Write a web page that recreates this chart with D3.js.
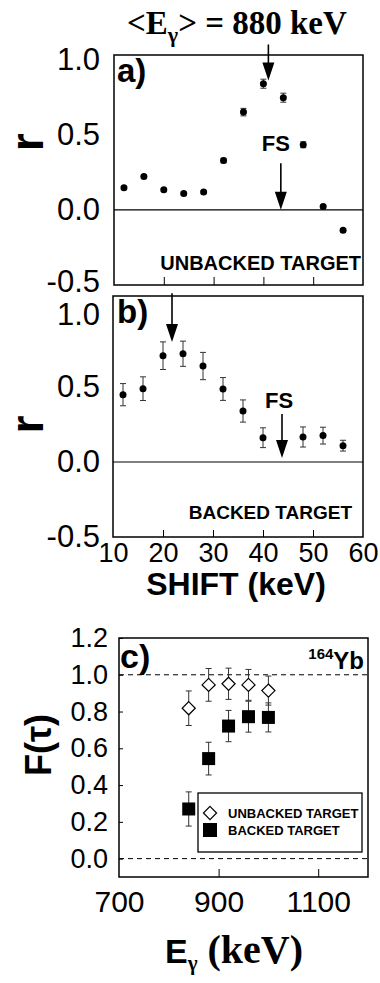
<!DOCTYPE html>
<html><head><meta charset="utf-8">
<script src="https://cdn.jsdelivr.net/npm/d3@7"></script>
<style>body{margin:0;background:#fff} svg{display:block}</style>
</head><body>
<script>
// ---- data ----
const shiftA = [12,16,20,24,28,32,36,40,44,48,52,56];
const rA     = [0.147,0.221,0.134,0.109,0.118,0.328,0.650,0.839,0.746,0.433,0.022,-0.136];
const errA   = [0.01,0.01,0.01,0.01,0.01,0.015,0.025,0.03,0.03,0.02,0.01,0.01];
const shiftB = [12,16,20,24,28,32,36,40,48,52,56];
const rB     = [0.449,0.489,0.709,0.722,0.640,0.487,0.340,0.162,0.167,0.176,0.109];
const errB   = [0.074,0.079,0.092,0.084,0.091,0.076,0.074,0.066,0.067,0.056,0.036];
const egamma = [840,880,920,960,1000];
const fUnbacked   = [0.818,0.945,0.951,0.945,0.914];
const errUnbacked = [0.094,0.089,0.085,0.084,0.079];
const fBacked     = [0.270,0.544,0.721,0.772,0.768];
const errBacked   = [0.093,0.089,0.085,0.084,0.079];
const shiftTicks = [10,20,30,40,50,60];
const rTicks = [-0.5,0.0,0.5,1.0];
const eTicks = [700,900,1100];
const fTicks = [0.0,0.2,0.4,0.6,0.8,1.0,1.2];
// annotation arrows: [x, yFrom, yTip]
const arrowsA = [[41,1.10,0.86],[43.5,0.31,0.0]];
const arrowsB = [[21.8,1.125,0.80],[43.8,0.32,0.027]];
const fsA = [42.5,0.39];
const fsB = [43.2,0.36];

const SANS = "'Liberation Sans', Arial, sans-serif";
const SERIF = "'Liberation Serif', 'Times New Roman', serif";

const svg = d3.select("body").append("svg").attr("width",380).attr("height",983);

function panel(cfg){
  const x = d3.scaleLinear().domain(cfg.xdom).range([cfg.x0,cfg.x1]);
  const y = d3.scaleLinear().domain(cfg.ydom).range([cfg.y1,cfg.y0]);
  return {x,y};
}

function yAxis(g, y, ticks, x0, pad, inner, fs){
  const ax = d3.axisLeft(y).tickValues(ticks).tickFormat(d=>d.toFixed(1))
     .tickSizeInner(inner).tickSizeOuter(0).tickPadding(pad);
  const a = g.append("g").attr("transform",`translate(${x0},0)`).call(ax);
  a.select(".domain").remove();
  a.selectAll("text").attr("font-family",SANS).attr("font-size",fs).attr("fill","#000");
  return a;
}

function frame(cfg){
  svg.append("rect").attr("x",cfg.x0).attr("y",cfg.y0).attr("width",cfg.x1-cfg.x0)
    .attr("height",cfg.y1-cfg.y0).attr("fill","none").attr("stroke","#000").attr("stroke-width",1.5);
}

function arrow(g, x, y, a){
  const xs = x(a[0]), y1 = y(a[1]), y2 = y(a[2]);
  g.append("line").attr("x1",xs).attr("x2",xs).attr("y1",y1).attr("y2",y2-10)
    .attr("stroke","#000").attr("stroke-width",1.6);
  g.append("path").attr("d",`M${xs-6},${y2-18} L${xs+6},${y2-18} L${xs},${y2} Z`).attr("fill","#000");
}

function errbars(g, xs, ys, es, x, y, cap){
  const gg = g.append("g").attr("stroke","#333").attr("stroke-width",1);
  xs.forEach((d,i)=>{
    const cx=x(d), yt=y(ys[i]+es[i]), yb=y(ys[i]-es[i]);
    gg.append("line").attr("x1",cx).attr("x2",cx).attr("y1",yt).attr("y2",yb);
    gg.append("line").attr("x1",cx-cap).attr("x2",cx+cap).attr("y1",yt).attr("y2",yt);
    gg.append("line").attr("x1",cx-cap).attr("x2",cx+cap).attr("y1",yb).attr("y2",yb);
  });
}

// ---- title ----
const title = svg.append("text").attr("x",127).attr("y",34).attr("font-family",SERIF)
  .attr("font-weight","bold").attr("font-size",33);
title.append("tspan").text("<E");
title.append("tspan").attr("font-size",22).attr("dy",8).text("γ");
title.append("tspan").attr("dy",-8).text("> = 880 keV");

// ---- panel a ----
const cfgA = {x0:114,x1:363,y0:55,y1:285,xdom:[10,60],ydom:[-0.5,1.03]};
const A = panel(cfgA);
const gA = svg.append("g");
gA.append("line").attr("x1",cfgA.x0).attr("x2",cfgA.x1).attr("y1",A.y(0)).attr("y2",A.y(0)).attr("stroke","#000").attr("stroke-width",1.2);
const axA = d3.axisBottom(A.x).tickValues([20,30,40,50]).tickFormat("").tickSizeInner(-8).tickSizeOuter(0);
gA.append("g").attr("transform",`translate(0,${cfgA.y1})`).call(axA).select(".domain").remove();
const ayA = yAxis(gA, A.y, rTicks, cfgA.x0, 14, 0, 31);
ayA.selectAll(".tick").filter(d=>d===-0.5).select("text").attr("dy","0.2em");
errbars(gA, shiftA, rA, errA, A.x, A.y, 3);
gA.selectAll("circle").data(shiftA).join("circle").attr("cx",d=>A.x(d)).attr("cy",(d,i)=>A.y(rA[i])).attr("r",3.5).attr("fill","#000");
arrowsA.forEach(a=>arrow(gA,A.x,A.y,a));
gA.append("text").attr("x",A.x(fsA[0])).attr("y",A.y(fsA[1])).attr("text-anchor","middle")
  .attr("font-family",SANS).attr("font-weight","bold").attr("font-size",22).text("FS");
gA.append("text").attr("x",cfgA.x1-2).attr("y",cfgA.y1-15).attr("text-anchor","end")
  .attr("font-family",SANS).attr("font-weight","bold").attr("font-size",20).text("UNBACKED TARGET");
gA.append("text").attr("x",117).attr("y",cfgA.y0+27).attr("font-family",SANS).attr("font-weight","bold").attr("font-size",33).text("a)");
gA.append("text").attr("transform",`translate(43,${(A.y(0.5)+A.y(0.4))/2}) rotate(-90)`).attr("text-anchor","middle")
  .attr("font-family",SANS).attr("font-weight","bold").attr("font-size",46).text("r");
frame(cfgA);

// ---- panel b ----
const cfgB = {x0:113,x1:363,y0:296,y1:537,xdom:[10,60],ydom:[-0.5,1.107]};
const B = panel(cfgB);
const gB = svg.append("g");
gB.append("line").attr("x1",cfgB.x0).attr("x2",cfgB.x1).attr("y1",B.y(0)).attr("y2",B.y(0)).attr("stroke","#000").attr("stroke-width",1.2);
const axBin = d3.axisBottom(B.x).tickValues([20,30,40,50]).tickFormat("").tickSizeInner(-7).tickSizeOuter(0);
gB.append("g").attr("transform",`translate(0,${cfgB.y1})`).call(axBin).select(".domain").remove();
const axB = d3.axisBottom(B.x).tickValues(shiftTicks).tickSize(0).tickPadding(6);
const gbx = gB.append("g").attr("transform",`translate(0,${cfgB.y1})`).call(axB);
gbx.select(".domain").remove();
gbx.selectAll("text").attr("font-family",SANS).attr("font-size",27).attr("fill","#000");
const ayB = yAxis(gB, B.y, rTicks, cfgB.x0, 13, 0, 31);
ayB.selectAll(".tick").filter(d=>d===1).select("text").attr("dy","0.4em");
errbars(gB, shiftB, rB, errB, B.x, B.y, 3);
gB.selectAll("circle").data(shiftB).join("circle").attr("cx",d=>B.x(d)).attr("cy",(d,i)=>B.y(rB[i])).attr("r",3.5).attr("fill","#000");
arrowsB.forEach(a=>arrow(gB,B.x,B.y,a));
gB.append("text").attr("x",B.x(fsB[0])).attr("y",B.y(fsB[1])).attr("text-anchor","middle")
  .attr("font-family",SANS).attr("font-weight","bold").attr("font-size",22).text("FS");
gB.append("text").attr("x",cfgB.x1-11).attr("y",cfgB.y1-18).attr("text-anchor","end")
  .attr("font-family",SANS).attr("font-weight","bold").attr("font-size",19).text("BACKED TARGET");
gB.append("text").attr("x",117).attr("y",cfgB.y0+27).attr("font-family",SANS).attr("font-weight","bold").attr("font-size",33).text("b)");
gB.append("text").attr("transform",`translate(43,${(B.y(0.3)+B.y(0.2))/2}) rotate(-90)`).attr("text-anchor","middle")
  .attr("font-family",SANS).attr("font-weight","bold").attr("font-size",46).text("r");
gB.append("text").attr("x",236).attr("y",595).attr("text-anchor","middle")
  .attr("font-family",SANS).attr("font-weight","bold").attr("font-size",32).text("SHIFT (keV)");
frame(cfgB);

// ---- panel c ----
const cfgC = {x0:119,x1:368,y0:638,y1:877,xdom:[700,1200],ydom:[-0.1,1.2]};
const C = panel(cfgC);
const gC = svg.append("g");
[0,1].forEach(v=>gC.append("line").attr("x1",cfgC.x0).attr("x2",cfgC.x1).attr("y1",C.y(v)).attr("y2",C.y(v))
  .attr("stroke","#000").attr("stroke-width",1).attr("stroke-dasharray","5,4"));
const axCin = d3.axisBottom(C.x).tickValues([900,1100]).tickFormat("").tickSizeInner(-8).tickSizeOuter(0);
gC.append("g").attr("transform",`translate(0,${cfgC.y1})`).call(axCin).select(".domain").remove();
const axC = d3.axisBottom(C.x).tickValues(eTicks).tickFormat(d=>String(d)).tickSize(0).tickPadding(14);
const gcx = gC.append("g").attr("transform",`translate(0,${cfgC.y1})`).call(axC);
gcx.select(".domain").remove();
gcx.selectAll("text").attr("font-family",SANS).attr("font-size",30).attr("fill","#000");
yAxis(gC, C.y, fTicks, cfgC.x0, 11, -4, 27);
errbars(gC, egamma, fUnbacked, errUnbacked, C.x, C.y, 3);
errbars(gC, egamma, fBacked, errBacked, C.x, C.y, 3);
const diamond = d3.symbol().type(d3.symbolDiamond2).size(110);
gC.selectAll(".dia").data(egamma).join("path").attr("class","dia")
  .attr("transform",(d,i)=>`translate(${C.x(d)},${C.y(fUnbacked[i])})`).attr("d",diamond)
  .attr("fill","#fff").attr("stroke","#000").attr("stroke-width",1.2);
gC.selectAll(".sq").data(egamma).join("rect").attr("class","sq")
  .attr("x",d=>C.x(d)-6.5).attr("y",(d,i)=>C.y(fBacked[i])-6.5).attr("width",13).attr("height",13).attr("fill","#000");
// legend
const lg = gC.append("g").attr("transform",`translate(198,793)`);
lg.append("rect").attr("width",164).attr("height",59).attr("fill","#fff").attr("stroke","#000").attr("stroke-width",1.3);
lg.append("path").attr("transform","translate(12,20)").attr("d",diamond).attr("fill","#fff").attr("stroke","#000").attr("stroke-width",1.2);
lg.append("rect").attr("x",5).attr("y",30).attr("width",14).attr("height",14).attr("fill","#000");
lg.append("text").attr("x",30).attr("y",25).attr("font-family",SANS).attr("font-weight","bold").attr("font-size",13).text("UNBACKED TARGET");
lg.append("text").attr("x",30).attr("y",42).attr("font-family",SANS).attr("font-weight","bold").attr("font-size",13).text("BACKED TARGET");
// labels
gC.append("text").attr("x",120).attr("y",cfgC.y0+30).attr("font-family",SANS).attr("font-weight","bold").attr("font-size",34).text("c)");
const yb = gC.append("text").attr("x",cfgC.x1-4).attr("y",669).attr("text-anchor","end").attr("font-family",SANS).attr("font-weight","bold");
yb.append("tspan").attr("font-size",15).attr("dy",-10).text("164");
yb.append("tspan").attr("font-size",24).attr("dy",10).text("Yb");
gC.append("text").attr("transform",`translate(51,745) rotate(-90)`).attr("text-anchor","middle")
  .attr("font-family",SANS).attr("font-weight","bold").attr("font-size",36).text("F(τ)");
const xl = gC.append("text").attr("x",165).attr("y",963).attr("font-weight","bold");
xl.append("tspan").attr("font-family",SANS).attr("font-size",34).text("E");
xl.append("tspan").attr("font-family",SERIF).attr("font-size",21).attr("dy",7).text("γ");
xl.append("tspan").attr("font-family",SERIF).attr("font-size",40).attr("dy",-7).text(" (keV)");
frame(cfgC);
</script>
</body></html>
